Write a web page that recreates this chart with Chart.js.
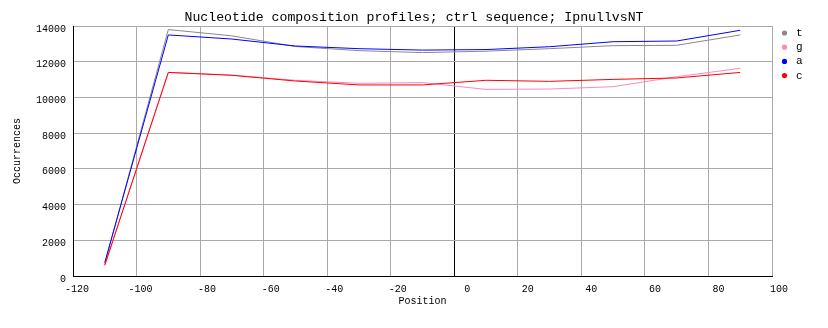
<!DOCTYPE html>
<html><head><meta charset="utf-8">
<script src="https://cdn.jsdelivr.net/npm/chart.js@4/dist/chart.umd.min.js"></script>
<style>html,body{margin:0;padding:0;background:#fff}canvas{display:block}</style>
</head><body>
<canvas id="c" width="828" height="328"></canvas>
<script>
// ---- data ----
const positions = [-110, -90, -70, -50, -30, -10, 10, 30, 50, 70, 90];
const tValues = [700, 13800, 13450, 12850, 12620, 12510, 12590, 12730, 12900, 12920, 13500];
const gValues = [600, 11400, 11250, 10960, 10790, 10830, 10450, 10470, 10600, 11160, 11630];
const aValues = [750, 13500, 13270, 12880, 12730, 12650, 12680, 12840, 13120, 13160, 13760];
const cValues = [600, 11400, 11240, 10920, 10700, 10700, 10960, 10900, 11010, 11090, 11400];
const seriesNames = ['t', 'g', 'a', 'c'];
const xTicks = [-120, -100, -80, -60, -40, -20, 0, 20, 40, 60, 80, 100];
const yTicks = [0, 2000, 4000, 6000, 8000, 10000, 12000, 14000];
const titleText = 'Nucleotide composition profiles; ctrl sequence; IpnullvsNT';

const FONT = '"Liberation Mono", "DejaVu Sans Mono", monospace';
const colors = ['#888888', '#ff88bb', '#0000ff', '#ff0000'];
const allValues = [tValues, gValues, aValues, cValues];

const datasets = seriesNames.map((name, i) => ({
  label: name,
  data: positions.map((p, j) => ({x: p, y: allValues[i][j]})),
  borderColor: colors[i],
  backgroundColor: colors[i],
  borderWidth: 1,
  pointRadius: 0,
  tension: 0,
  fill: false,
  order: 4 - i
}));

const sideLegend = {
  id: 'sideLegend',
  afterDraw(chart) {
    const ctx = chart.ctx;
    ctx.save();
    ctx.font = '11px ' + FONT;
    ctx.textBaseline = 'middle';
    ctx.textAlign = 'left';
    chart.data.datasets.forEach((ds, i) => {
      const y = 33 + i * 14.2;
      ctx.fillStyle = ds.borderColor;
      ctx.beginPath();
      ctx.arc(784.5, y, 2.6, 0, Math.PI * 2);
      ctx.fill();
      ctx.fillStyle = '#000';
      ctx.fillText(ds.label, 796, y);
    });
    ctx.restore();
  }
};

new Chart(document.getElementById('c'), {
  type: 'line',
  data: {datasets},
  plugins: [sideLegend],
  options: {
    responsive: false,
    animation: false,
    devicePixelRatio: 1,
    layout: {padding: 0},
    plugins: {
      legend: {display: false},
      tooltip: {enabled: false},
      title: {
        display: true,
        text: titleText,
        color: '#000',
        font: {family: FONT, size: 13.2, weight: 'normal', lineHeight: 1.2},
        padding: {top: 10, bottom: 0.16}
      }
    },
    scales: {
      x: {
        type: 'linear',
        min: -120, max: 100,
        afterBuildTicks: s => { s.ticks = xTicks.map(v => ({value: v})); },
        afterFit: s => { s.height = 52; },
        grid: {
          color: ctx => (ctx.tick && ctx.tick.value === 0) ? '#000000' : '#aaaaaa',
          lineWidth: 1,
          drawTicks: false
        },
        border: {color: '#000', width: 1},
        ticks: {
          color: '#000',
          font: {family: FONT, size: 10},
          align: 'end',
          labelOffset: 16,
          padding: 7,
          maxRotation: 0,
          autoSkip: false,
          callback: v => String(v)
        },
        title: {
          display: true,
          text: 'Position',
          color: '#000',
          font: {family: FONT, size: 10, lineHeight: 1.2},
          padding: {top: 0, bottom: 21}
        }
      },
      y: {
        type: 'linear',
        position: 'left',
        min: 0, max: 14000,
        afterBuildTicks: s => { s.ticks = yTicks.map(v => ({value: v})); },
        afterFit: s => { s.width = 73; },
        grid: {color: '#aaaaaa', lineWidth: 1, drawTicks: false},
        border: {color: '#000', width: 1},
        ticks: {
          color: '#000',
          font: {family: FONT, size: 10},
          padding: 7,
          labelOffset: 3,
          autoSkip: false,
          callback: v => String(v)
        },
        title: {
          display: true,
          text: 'Occurrences',
          color: '#000',
          font: {family: FONT, size: 10, lineHeight: 1.2},
          padding: {top: 11.5, bottom: 0}
        }
      },
      legendSpace: {
        type: 'linear',
        position: 'right',
        display: true,
        min: 0, max: 1,
        afterFit: s => { s.width = 56; },
        grid: {display: false, drawTicks: false},
        border: {display: false},
        ticks: {display: false}
      }
    }
  }
});
</script>
</body></html>
